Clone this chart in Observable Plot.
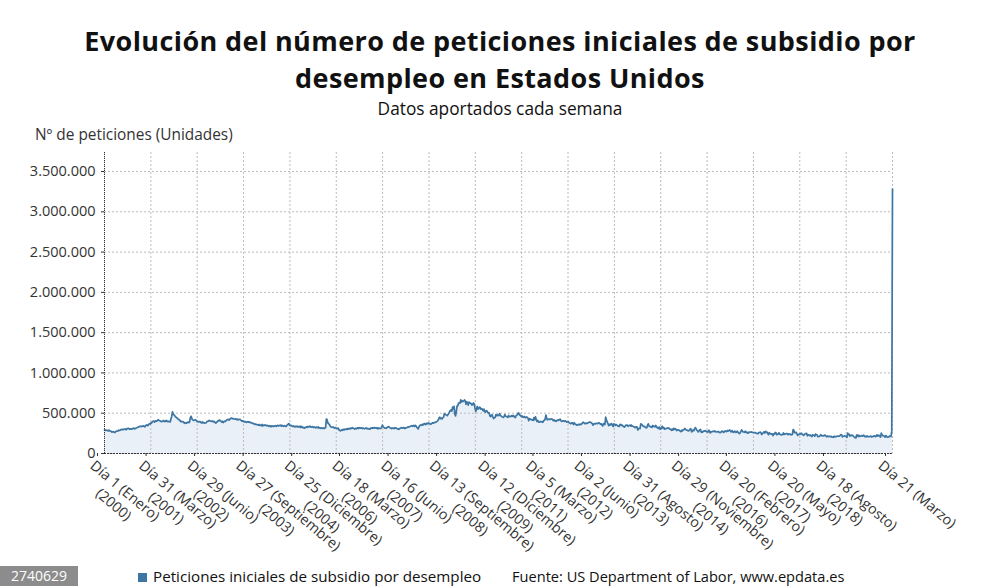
<!DOCTYPE html>
<html><head><meta charset="utf-8">
<script src="https://cdn.jsdelivr.net/npm/d3@7"></script>
<script src="https://cdn.jsdelivr.net/npm/@observablehq/plot@0.6"></script>
<style>
body{margin:0;background:#fff;font-family:"Open Sans",sans-serif;}
#wrap{position:relative;width:1000px;height:586px;overflow:hidden;background:#fff}
.tl{position:absolute;left:0;width:1000px;height:37px;text-align:center;font-weight:700;font-size:27px;letter-spacing:0.4px;line-height:37px;color:#111;white-space:nowrap}
#t1{top:22px}
#t2{top:59px}
#subtitle{position:absolute;top:97px;left:0;width:1000px;text-align:center;font-size:17.3px;color:#111}
#ylab{position:absolute;top:124px;left:35px;font-size:15.4px;color:#333}
#plot{position:absolute;top:140px;left:0}
#badge{position:absolute;left:0;top:566px;width:78px;height:20px;background:#8c8c8c;color:#fff;font-size:14px;line-height:20px;text-align:center}
#legend{position:absolute;top:566px;left:138px;font-size:15.2px;color:#111;white-space:nowrap}
#legend .sw{display:inline-block;width:9px;height:9px;background:#3d76a3;margin-right:6px;vertical-align:0px}
#legend .src{position:absolute;left:374px;top:0;font-size:14.6px;line-height:inherit}
</style></head>
<body>
<div id="wrap">
<div id="plot"></div>
<div class="tl" id="t1">Evolución del número de peticiones iniciales de subsidio por</div>
<div class="tl" id="t2">desempleo en Estados Unidos</div>
<div id="subtitle">Datos aportados cada semana</div>
<div id="ylab">Nº de peticiones (Unidades)</div>
<div id="badge">2740629</div>
<div id="legend"><span class="sw"></span>Peticiones iniciales de subsidio por desempleo<span class="src">Fuente: US Department of Labor, www.epdata.es</span></div>
</div>
<script>
// Weekly initial claims (thousands), weeks ending on Saturday, one array per year
const y2000 = [294,286,291,288,283,281,290,281,278,275,266,268,272,265,259,273,277,278,280,290,285,290,298,296,300,295,303,302,303,295,310,307,312,308,302,306,302,305,312,314,305,311,312,318,325,326,332,336,339,334,337,338,344];
const y2001 = [338,330,345,352,355,345,357,370,366,380,378,395,401,399,390,405,404,400,410,420,412,405,403,395,400,398,410,402,395,405,410,395,402,395,398,392,430,460,517,490,480,470,455,450,440,435,420,420,410,395,400,395];
const y2002 = [396,388,375,382,380,378,385,390,382,395,448,462,430,420,410,412,415,418,408,395,398,392,395,396,385,380,392,380,385,375,378,382,395,398,402,410,405,400,402,398,402,392,398,385,378,385,395,408,405,415,410,400];
const y2003 = [390,400,385,395,402,398,410,418,420,425,415,428,433,440,436,430,432,428,425,430,420,426,418,422,425,418,410,402,405,396,398,392,395,386,390,396,388,392,382,384,380,378,372,366,368,360,362,358,356,352,360,350];
const y2004 = [352,345,360,342,350,355,348,352,345,350,342,338,345,340,332,344,338,335,342,340,346,338,345,350,342,348,345,352,340,348,342,338,345,340,336,348,355,365,372,350,345,348,340,336,342,335,330,338,332,340,328,334];
const y2005 = [330,338,322,335,328,318,325,315,322,330,325,335,328,332,340,330,326,335,328,322,330,325,318,326,322,330,315,320,312,318,314,312,318,310,315,320,428,420,378,372,360,345,332,328,325,330,320,315,322,318,312,308,315];
const y2006 = [292,286,282,290,296,288,300,294,302,298,306,300,310,304,312,306,316,312,320,314,310,304,312,306,315,318,310,322,314,318,316,310,318,312,306,312,318,308,312,305,310,302,308,318,312,320,314,322,316,318,312,320];
const y2007 = [305,318,312,310,312,328,352,335,325,318,314,312,320,325,335,330,322,315,310,318,312,315,310,318,320,312,305,308,300,310,312,318,322,314,318,322,310,315,318,322,328,326,332,335,338,345,340,342,348,336,350,342];
const y2008 = [325,318,305,332,345,352,358,350,362,355,372,368,360,375,368,372,380,372,368,365,372,380,378,385,382,388,392,398,405,418,442,450,432,438,430,445,452,495,488,482,478,470,485,498,518,535,540,525,575,556,586,492];
const y2009 = [467,524,588,591,626,623,627,667,639,654,646,652,665,654,610,640,631,601,637,631,623,621,601,608,627,614,565,522,554,584,550,558,576,570,550,557,545,530,551,521,514,531,530,512,502,505,466,457,474,480,452,434];
const y2010 = [445,448,482,470,480,470,474,496,468,465,458,452,448,460,484,465,460,456,448,472,462,458,458,470,462,472,458,462,445,468,478,482,504,495,478,472,458,466,452,452,460,448,445,455,448,440,407,432,428,420,422,414];
const y2011 = [412,445,420,455,422,398,412,392,388,395,398,392,396,388,408,412,428,478,440,418,424,428,422,424,430,428,420,408,418,402,408,400,410,418,412,418,426,410,398,402,406,404,398,406,398,390,392,396,382,378,370,374,382];
const y2012 = [375,360,382,368,362,352,355,358,362,355,365,360,368,382,388,380,372,372,378,374,378,384,388,392,386,378,372,352,365,372,368,372,374,370,378,382,372,365,368,355,342,372,368,360,451,416,395,372,346,362,352,368];
const y2013 = [372,350,335,368,362,348,358,352,345,338,335,358,362,348,352,340,335,328,338,352,348,352,338,348,350,342,355,338,340,335,332,320,325,332,328,292,308,312,310,368,362,352,342,336,338,324,318,320,352,368,342,338];
const y2014 = [330,335,325,348,335,338,330,348,332,318,325,310,328,302,305,328,338,312,320,302,308,310,312,318,312,315,302,300,288,302,290,312,300,305,302,285,290,295,290,285,275,272,290,282,294,298,312,298,292,290,282,280];
const y2015 = [292,302,308,268,280,292,282,306,322,308,290,282,268,280,295,298,262,268,266,278,284,276,280,270,272,264,288,282,255,268,268,274,276,272,280,270,268,268,270,274,262,260,262,274,278,270,262,272,282,274,272,286];
const y2016 = [278,284,292,278,268,285,269,262,272,278,262,265,276,266,253,247,256,274,294,278,268,267,264,277,258,266,254,253,266,264,266,268,262,262,261,259,260,254,249,249,246,260,261,265,254,236,251,259,268,254,275,265,265];
const y2017 = [247,234,259,246,246,239,244,223,243,241,261,258,234,236,244,257,238,236,232,234,234,255,237,241,244,248,247,233,244,240,240,232,234,236,298,284,259,260,262,243,225,233,240,238,248,252,238,236,225,234,245,248];
const y2018 = [250,220,233,230,221,229,222,210,231,226,229,215,242,233,232,209,211,211,222,234,221,222,218,218,227,228,214,208,217,208,214,212,210,213,203,204,201,214,207,209,210,216,215,214,216,224,234,233,206,214,217,221];
const y2019 = [216,213,199,253,234,239,216,225,223,229,221,211,202,196,193,230,228,211,228,212,215,218,222,216,227,221,209,216,206,217,209,209,210,213,217,204,208,213,215,219,210,212,232,215,227,225,213,203,252,234,222,220];
const y2020 = [214,204,223,216,202,203,206,216,215,211,282,3283];

const tickDates = ["2000-01-01","2001-03-31","2002-06-29","2003-09-27","2004-12-25","2006-03-18","2007-06-16","2008-09-13","2009-12-12","2011-03-05","2012-06-02","2013-08-31","2014-11-29","2016-02-20","2017-05-20","2018-08-18","2020-03-21"];
const tickLabels = ["Día 1 (Enero)\n(2000)","Día 31 (Marzo)\n(2001)","Día 29 (Junio)\n(2002)","Día 27 (Septiembre)\n(2003)","Día 25 (Diciembre)\n(2004)","Día 18 (Marzo)\n(2006)","Día 16 (Junio)\n(2007)","Día 13 (Septiembre)\n(2008)","Día 12 (Diciembre)\n(2009)","Día 5 (Marzo)\n(2011)","Día 2 (Junio)\n(2012)","Día 31 (Agosto)\n(2013)","Día 29 (Noviembre)\n(2014)","Día 20 (Febrero)\n(2016)","Día 20 (Mayo)\n(2017)","Día 18 (Agosto)\n(2018)","Día 21 (Marzo)"];
const yTicks = [0,500000,1000000,1500000,2000000,2500000,3000000,3500000];

const years = [y2000,y2001,y2002,y2003,y2004,y2005,y2006,y2007,y2008,y2009,y2010,y2011,y2012,y2013,y2014,y2015,y2016,y2017,y2018,y2019,y2020];
const data = [];
years.forEach((arr, i) => {
  const yr = 2000 + i;
  const sats = d3.utcSaturday.range(new Date(Date.UTC(yr,0,1)), new Date(Date.UTC(yr+1,0,1)));
  arr.forEach((v, j) => { if (sats[j]) data.push({date: sats[j], value: v * 1000}); });
});

const start = new Date(Date.UTC(2000,0,1));
const end = data[data.length-1].date;
const gridDates = d3.range(18).map(i => new Date(+start + i * (end - start) / 17));
const ticks = tickDates.map(s => new Date(s + "T00:00:00Z"));
const labelOf = new Map(ticks.map((d, i) => [+d, tickLabels[i]]));

const loc = d3.formatLocale({decimal: ",", thousands: ".", grouping: [3], currency: ["", "€"]});
const fmtY = loc.format(",d");

const chart = Plot.plot({
  width: 1000, height: 446,
  marginLeft: 104, marginRight: 108, marginTop: 12, marginBottom: 133,
  style: {fontFamily: "'Open Sans', sans-serif", fontSize: "14.5px", color: "#333", background: "transparent"},
  x: {type: "utc", domain: [start, end]},
  y: {domain: [0, 3736000]},
  marks: [
    Plot.areaY(data, {x: "date", y: "value", fill: "#e9f0f8"}),
    Plot.gridY(yTicks, {stroke: "#bbb", strokeOpacity: 1, strokeDasharray: "2,2"}),
    Plot.ruleX(gridDates, {stroke: "#bbb", strokeDasharray: "2,2"}),
    Plot.lineY(data, {x: "date", y: "value", stroke: "#3d76a3", strokeWidth: 1.7}),
    Plot.ruleX([start], {stroke: "#333", strokeDasharray: "1,1"}),
    Plot.ruleY([0], {stroke: "#333", strokeDasharray: "2,1"}),
    Plot.axisY(yTicks, {tickFormat: fmtY, tickSize: 3, tickPadding: 6, label: null}),
    Plot.axisX(ticks, {tickFormat: d => labelOf.get(+d), tickRotate: 40, tickSize: 3, tickPadding: 1,
      lineAnchor: "top", textAnchor: "start", lineHeight: 1.25, dx: -7, fontSize: 14.3, label: null})
  ]
});
document.getElementById("plot").appendChild(chart);

// center the year line under the first line of each rotated label
chart.querySelectorAll('g[aria-label="x-axis tick label"] text').forEach(t => {
  const spans = t.querySelectorAll("tspan");
  if (spans.length < 2) return;
  const w = spans[0].getComputedTextLength();
  t.setAttribute("text-anchor", "middle");
  spans.forEach(s => s.setAttribute("x", w / 2));
});
</script>
</body></html>
